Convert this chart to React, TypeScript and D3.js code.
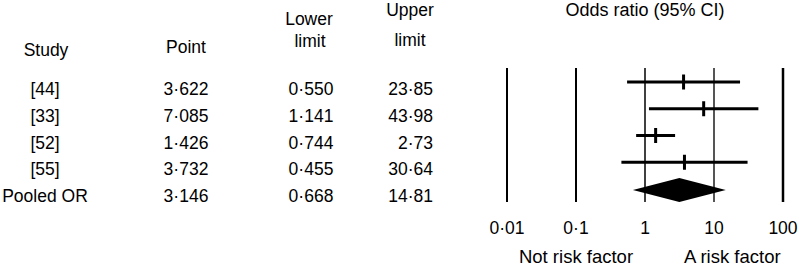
import * as d3 from 'd3';
import React, { useEffect, useRef } from 'react';

// forest plot: odds ratios per study
const studies = ['[44]', '[33]', '[52]', '[55]', 'Pooled OR'];
const pointEst = [3.622, 7.085, 1.426, 3.732, 3.146];
const lowerLimits = [0.55, 1.141, 0.744, 0.455, 0.668];
const upperLimits = [23.85, 43.98, 2.73, 30.64, 14.81];
const tickValues = [0.01, 0.1, 1, 10, 100];
const tickLabels = ['0·01', '0·1', '1', '10', '100'];

const W = 800;
const H = 271;
const FONT = '"Liberation Sans", Arial, sans-serif';

const x = d3.scaleLog().domain([0.01, 100]).range([507, 783]);
const y = d3.scalePoint<string>().domain(studies).range([82, 189]);

const dot = (s: string) => s.replace('.', '·');
const f3 = d3.format('.3f');
const f2 = d3.format('.2f');

const App = () => {
  const ref = useRef<SVGSVGElement>(null);

  useEffect(() => {
    const svg = d3.select(ref.current);
    svg.selectAll('*').remove();
    const g = svg.append('g')
      .attr('font-family', FONT)
      .attr('font-size', 17.5)
      .attr('fill', '#000');

    // column headers
    const headers: [string, number, number][] = [
      ['Study', 46, 56],
      ['Point', 186, 53],
      ['Lower', 309, 25],
      ['limit', 310, 47],
      ['Upper', 410, 16],
      ['limit', 410, 46],
    ];
    g.selectAll('text.head')
      .data(headers)
      .enter()
      .append('text')
      .attr('class', 'head')
      .attr('x', d => d[1])
      .attr('y', d => d[2])
      .attr('text-anchor', 'middle')
      .text(d => d[0]);
    g.append('text')
      .attr('x', x(1))
      .attr('y', 16)
      .attr('text-anchor', 'middle')
      .attr('font-size', 18)
      .text('Odds ratio (95% CI)');

    // table columns
    const rows = g.selectAll('g.row')
      .data(studies)
      .enter()
      .append('g')
      .attr('class', 'row')
      .attr('transform', s => `translate(0, ${y(s)! + 13})`);
    rows.append('text')
      .attr('x', 45)
      .attr('text-anchor', 'middle')
      .text(s => s);
    rows.append('text')
      .attr('x', 186)
      .attr('text-anchor', 'middle')
      .text((s, i) => dot(f3(pointEst[i])));
    rows.append('text')
      .attr('x', 311)
      .attr('text-anchor', 'middle')
      .text((s, i) => dot(f3(lowerLimits[i])));
    rows.append('text')
      .attr('x', 433)
      .attr('text-anchor', 'end')
      .text((s, i) => dot(f2(upperLimits[i])));

    // reference lines
    const lineColor = (v: number) => (v === 10 ? '#555' : '#000');
    const lineWidth = (v: number) => (v === 1 ? 1.5 : v === 100 ? 2.5 : 2);
    g.selectAll('line.ref')
      .data(tickValues)
      .enter()
      .append('line')
      .attr('class', 'ref')
      .attr('x1', v => x(v))
      .attr('x2', v => x(v))
      .attr('y1', 68)
      .attr('y2', 202)
      .attr('stroke', lineColor)
      .attr('stroke-width', lineWidth);

    g.selectAll('text.tick')
      .data(tickValues)
      .enter()
      .append('text')
      .attr('class', 'tick')
      .attr('x', v => x(v))
      .attr('y', 234)
      .attr('text-anchor', 'middle')
      .text((v, i) => tickLabels[i]);

    // studies: CI line + point tick
    const idx = d3.range(studies.length - 1);
    g.selectAll('line.ci')
      .data(idx)
      .enter()
      .append('line')
      .attr('class', 'ci')
      .attr('x1', i => x(lowerLimits[i]))
      .attr('x2', i => x(upperLimits[i]))
      .attr('y1', i => y(studies[i])!)
      .attr('y2', i => y(studies[i])!)
      .attr('stroke', '#000')
      .attr('stroke-width', 3);
    g.selectAll('line.pt')
      .data(idx)
      .enter()
      .append('line')
      .attr('class', 'pt')
      .attr('x1', i => x(pointEst[i]))
      .attr('x2', i => x(pointEst[i]))
      .attr('y1', i => y(studies[i])! - 7.5)
      .attr('y2', i => y(studies[i])! + 7.5)
      .attr('stroke', '#000')
      .attr('stroke-width', 3);

    // pooled diamond
    const last = studies.length - 1;
    const cy = y(studies[last])! + 1;
    const diamond = [
      [x(lowerLimits[last]), cy],
      [x(pointEst[last]), cy - 12],
      [x(upperLimits[last]), cy],
      [x(pointEst[last]), cy + 12],
    ];
    g.append('path')
      .attr('d', d3.line()(diamond as [number, number][]) + 'Z')
      .attr('fill', '#000');

    g.append('text')
      .attr('x', x(0.1))
      .attr('y', 263)
      .attr('font-size', 18.5)
      .attr('text-anchor', 'middle')
      .text('Not risk factor');
    g.append('text')
      .attr('x', x(1) + 39)
      .attr('y', 263)
      .attr('font-size', 18.5)
      .text('A risk factor');
  }, []);

  return (
    <svg ref={ref} width={W} height={H}
      style={{ position: 'absolute', left: 0, top: 0, background: '#fff' }} />
  );
};

export default App;
